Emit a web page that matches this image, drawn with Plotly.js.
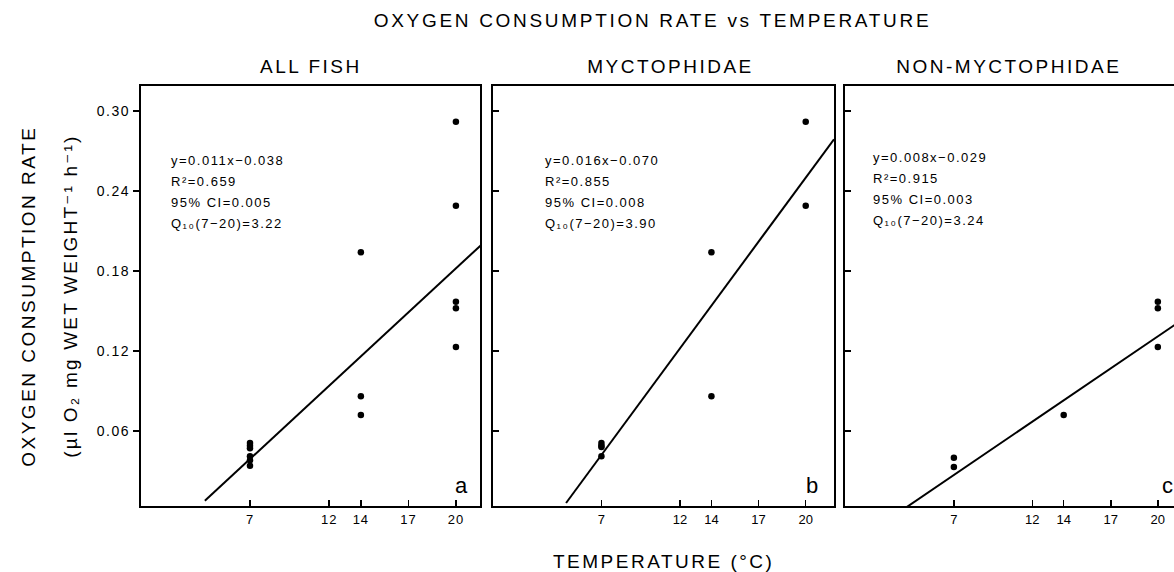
<!DOCTYPE html>
<html>
<head>
<meta charset="utf-8">
<script src="https://cdn.plot.ly/plotly-3.0.1.min.js"></script>
<style>
html,body{margin:0;padding:0;background:#fff;}
#chart{width:1174px;height:572px;}
.xtick text{letter-spacing:1px;}
.ytick text{letter-spacing:1.5px;}
</style>
</head>
<body>
<div id="chart"></div>
<script>
// ---- data ----
const panelTitles = ["ALL FISH", "MYCTOPHIDAE", "NON-MYCTOPHIDAE"];
const panelLetters = ["a", "b", "c"];

const allTemp = [7, 7, 7, 7, 7, 7, 14, 14, 14, 20, 20, 20, 20, 20];
const allRate = [0.051, 0.049, 0.047, 0.041, 0.038, 0.034, 0.194, 0.086, 0.072, 0.292, 0.229, 0.157, 0.152, 0.123];

const myctTemp = [7, 7, 7, 7, 14, 14, 20, 20];
const myctRate = [0.051, 0.049, 0.048, 0.041, 0.194, 0.086, 0.292, 0.229];

const nonTemp = [7, 7, 14, 20, 20, 20];
const nonRate = [0.040, 0.033, 0.072, 0.157, 0.152, 0.123];

const fitSlope = [0.011, 0.016, 0.008];
const fitIntercept = [-0.038, -0.070, -0.029];
const fitStart = [4.15, 4.75, 3.9];
const fitEnd = [21.6, 21.8, 21.1];

const statEq = ["y=0.011x\u22120.038", "y=0.016x\u22120.070", "y=0.008x\u22120.029"];
const statR2 = ["0.659", "0.855", "0.915"];
const statCI = ["0.005", "0.008", "0.003"];
const statQ10 = ["3.22", "3.90", "3.24"];

const xTickVals = [7, 12, 14, 17, 20];
const yTickVals = [0.06, 0.12, 0.18, 0.24, 0.30];

// ---- layout geometry ----
const W = 1174, H = 572;
const px = v => v / W;
const py = v => 1 - v / H;
const panelsPx = [[141, 480], [493, 834], [845, 1174]];
const xRanges = [[0.12, 21.52], [0.1, 21.8], [0.06, 21.03]];
const yRange = [0.00375, 0.31875];
const yDom = [py(506), py(86)];

const FONT = "Liberation Sans, DejaVu Sans, Arial, sans-serif";
const datasets = [[allTemp, allRate], [myctTemp, myctRate], [nonTemp, nonRate]];

const traces = [];
const layout = {
  width: W, height: H,
  margin: {l: 0, r: 0, t: 0, b: 0},
  paper_bgcolor: "#fff", plot_bgcolor: "#fff",
  showlegend: false,
  font: {family: FONT, color: "#000", size: 13},
  annotations: [], shapes: []
};
const spacing = []; // letter spacing per annotation index

function addAnn(obj, ls) {
  layout.annotations.push(Object.assign({xref: "paper", yref: "paper", showarrow: false}, obj));
  spacing.push(ls);
}

for (let i = 0; i < 3; i++) {
  const sx = i === 0 ? "" : String(i + 1);
  const xa = "x" + sx, ya = "y" + sx;
  traces.push({
    type: "scatter", mode: "markers", x: datasets[i][0], y: datasets[i][1],
    xaxis: xa, yaxis: ya, marker: {color: "#000", size: 6.5},
    hoverinfo: "x+y"
  });
  const xs = [fitStart[i], fitEnd[i]];
  traces.push({
    type: "scatter", mode: "lines", x: xs,
    y: xs.map(t => fitSlope[i] * t + fitIntercept[i]),
    xaxis: xa, yaxis: ya, line: {color: "#000", width: 2}, hoverinfo: "skip"
  });
  layout["xaxis" + sx] = {
    domain: [px(panelsPx[i][0]), px(panelsPx[i][1])],
    range: xRanges[i], anchor: ya,
    showgrid: false, zeroline: false,
    showline: true, linecolor: "#000", linewidth: 2.2, mirror: true,
    ticks: "inside", ticklen: 6, tickwidth: 1.5, tickcolor: "#000",
    tickvals: xTickVals, ticktext: xTickVals.map(String),
    tickfont: {family: FONT, size: 13, color: "#000"},
    fixedrange: true
  };
  layout["yaxis" + sx] = {
    domain: yDom, range: yRange, anchor: xa,
    showgrid: false, zeroline: false,
    showline: true, linecolor: "#000", linewidth: 2.2, mirror: i < 2,
    ticks: i === 0 ? "outside" : "inside", ticklen: 6, tickwidth: 1.5, tickcolor: "#000",
    tickvals: yTickVals, ticktext: yTickVals.map(v => v.toFixed(2)),
    showticklabels: i === 0,
    tickfont: {family: FONT, size: 14, color: "#000"},
    fixedrange: true
  };
  // panel title
  addAnn({x: px([311, 670, 1009][i]), y: py(66), xanchor: "center", yanchor: "middle",
    text: panelTitles[i], font: {family: FONT, size: 19, color: "#000"}}, 2.5);
  // panel letter
  addAnn({x: px([462, 812, 1167][i]), y: py(485), xanchor: "center", yanchor: "middle",
    text: panelLetters[i], font: {family: FONT, size: 22, color: "#000"}}, 0);
  // stats block
  const sxp = [169, 543, 871][i];
  const lines = [statEq[i], "R\u00B2=" + statR2[i], "95% CI=" + statCI[i], "Q\u2081\u2080(7\u221220)=" + statQ10[i]];
  const baseY = [160, 160, 157][i];
  lines.forEach((t, k) => {
    addAnn({x: px(sxp), y: py(baseY + k * 21.3), xanchor: "left", yanchor: "middle", align: "left",
      text: t, font: {family: FONT, size: 13, color: "#000"}}, 1.5);
  });
}

// main title and axis titles
addAnn({x: px(652), y: py(21), xanchor: "center", yanchor: "middle",
  text: "OXYGEN CONSUMPTION RATE vs TEMPERATURE", font: {family: FONT, size: 19, color: "#000"}}, 2.7);
addAnn({x: px(663), y: py(561), xanchor: "center", yanchor: "middle",
  text: "TEMPERATURE (\u00B0C)", font: {family: FONT, size: 19, color: "#000"}}, 2.5);
addAnn({x: px(28), y: py(296), xanchor: "center", yanchor: "middle",
  text: "OXYGEN CONSUMPTION RATE", textangle: -90, font: {family: FONT, size: 19, color: "#000"}}, 2.5);
addAnn({x: px(70), y: py(296), xanchor: "center", yanchor: "middle",
  text: "(\u00B5l O\u2082 mg WET WEIGHT\u207B\u00B9 h\u207B\u00B9)", textangle: -90,
  font: {family: FONT, size: 19, color: "#000"}}, 2.2);

Plotly.newPlot("chart", traces, layout, {displayModeBar: false, staticPlot: true}).then(gd => {
  gd.querySelectorAll("g.annotation").forEach(g => {
    const idx = +g.getAttribute("data-index");
    const ls = spacing[idx];
    if (ls) g.querySelectorAll("text").forEach(t => t.style.letterSpacing = ls + "px");
  });
});
</script>
</body>
</html>
